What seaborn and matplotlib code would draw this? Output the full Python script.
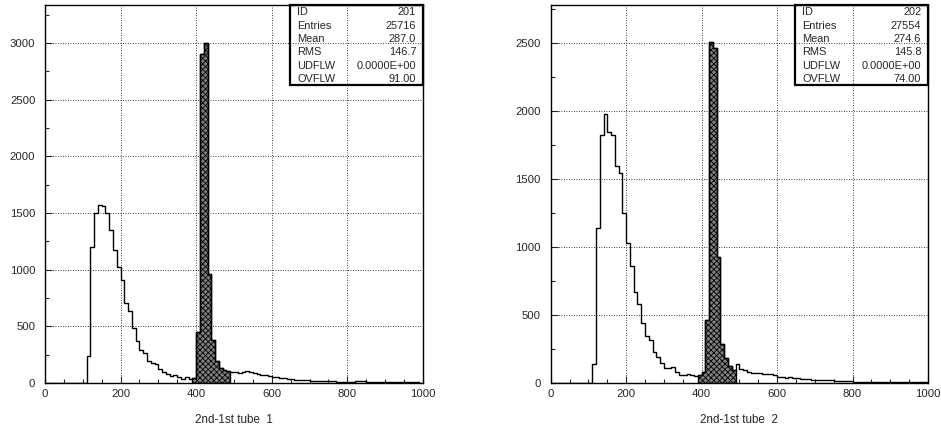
import numpy as np
import pandas as pd
import seaborn as sns
import matplotlib.pyplot as plt
from matplotlib.patches import Rectangle
from matplotlib.ticker import MultipleLocator

# --- данные: гистограммы с шагом 10, первый бин начинается с 110 ---
start_open = 110
counts1 = [235, 1200, 1503, 1568, 1560, 1503, 1353, 1174, 1020, 908,
           706, 638, 484, 368, 288, 265, 197, 180, 163, 120,
           97, 80, 62, 70, 50, 32, 50, 38, 45, 450,
           2906, 3000, 965, 375, 195, 128, 115, 105, 100, 95,
           92, 100, 106, 100, 90, 78, 72, 68, 62, 55,
           50, 44, 40, 38, 32, 30, 28, 25, 22, 20,
           20, 18, 17, 15, 15, 14, 12, 10, 8, 5,
           8, 18, 20, 15, 12, 10, 12, 10, 9, 8,
           9, 7, 8, 10, 6, 5, 6, 5, 4]
counts2 = [136, 1143, 1826, 1979, 1846, 1826, 1599, 1545, 1254, 1032,
           864, 672, 580, 442, 346, 316, 228, 192, 150, 112,
           112, 120, 84, 60, 62, 66, 55, 48, 55, 78,
           462, 2512, 2468, 928, 286, 186, 128, 96, 143, 106,
           94, 82, 76, 76, 74, 69, 68, 66, 60, 46,
           44, 40, 42, 38, 34, 32, 30, 26, 25, 24,
           22, 20, 20, 19, 18, 18, 16, 12, 13, 8,
           7, 8, 7, 9, 10, 9, 10, 8, 9, 7,
           6, 8, 6, 7, 10, 9, 10, 8, 9]

# заштрихованная часть (окно 390-490)
start_cut = 390
cut1 = [45, 450, 2906, 3000, 965, 375, 195, 128, 115, 105]
cut2 = [55, 78, 462, 2512, 2468, 928, 286, 186, 128, 96]

ids = ["201", "202"]
entries = ["25716", "27554"]
means = ["287.0", "274.6"]
rms = ["146.7", "145.8"]
udflw = ["0.0000E+00", "0.0000E+00"]
ovflw = ["91.00", "74.00"]
xlabels = ["2nd-1st tube  1", "2nd-1st tube  2"]
ymax = [3333, 2780]

sns.set_style("white")
plt.rcParams['font.family'] = ['Liberation Sans', 'DejaVu Sans']
plt.rcParams['hatch.color'] = 'black'
plt.rcParams['hatch.linewidth'] = 0.6


def to_df(counts, start):
    centers = start + 5 + 10 * np.arange(len(counts))
    return pd.DataFrame({"x": centers, "n": counts})


fig = plt.figure(figsize=(9.41, 4.26), dpi=100)
axes = [fig.add_axes([0.0478, 0.101, 0.4017, 0.887]),
        fig.add_axes([0.5852, 0.101, 0.401, 0.887])]

for i, ax in enumerate(axes):
    full = to_df([counts1, counts2][i], start_open)
    cut = to_df([cut1, cut2][i], start_cut)

    sns.histplot(data=full, x="x", weights="n", binwidth=10, binrange=(0, 1000),
                 element="step", fill=False, color="black", linewidth=1.0, ax=ax)
    sns.histplot(data=cut, x="x", weights="n", binwidth=10, binrange=(390, 490),
                 element="step", fill=True, color="0.5", alpha=1,
                 edgecolor="black", linewidth=1.0, hatch="xxxxxx", ax=ax)

    ax.set_xlim(0, 1000)
    ax.set_ylim(0, ymax[i])
    ax.xaxis.set_major_locator(MultipleLocator(200))
    ax.xaxis.set_minor_locator(MultipleLocator(50))
    ax.yaxis.set_major_locator(MultipleLocator(500))
    ax.yaxis.set_minor_locator(MultipleLocator(250))
    ax.tick_params(which="both", direction="in", top=False, right=False,
                   bottom=True, left=True, labelsize=8.2, width=0.8)
    ax.tick_params(which="major", length=5)
    ax.tick_params(which="minor", length=3)
    ax.tick_params(axis="y", pad=7)
    ax.tick_params(axis="x", pad=4)
    ax.grid(True, which="major", color="black", linestyle=(0, (1, 2)), linewidth=0.6)
    for sp in ax.spines.values():
        sp.set_color("black")
        sp.set_linewidth(1.0)
    ax.set_ylabel("")
    ax.set_xlabel(xlabels[i], fontsize=8.4, labelpad=11)

    # рамка статистики как в PAW
    ax.add_patch(Rectangle((0.648, 0.788), 0.352, 0.212, transform=ax.transAxes,
                           fill=False, edgecolor="black", linewidth=1.6,
                           clip_on=False, zorder=5))
    rows = [("ID", ids[i]), ("Entries", entries[i]), ("Mean", means[i]),
            ("RMS", rms[i]), ("UDFLW", udflw[i]), ("OVFLW", ovflw[i])]
    for r, (name, val) in enumerate(rows):
        y = 0.981 - r * 0.0353
        ax.text(0.667, y, name, transform=ax.transAxes, fontsize=7.9,
                va="center", ha="left")
        ax.text(0.982, y, val, transform=ax.transAxes, fontsize=7.9,
                va="center", ha="right")

plt.savefig("out.png", dpi=100)
